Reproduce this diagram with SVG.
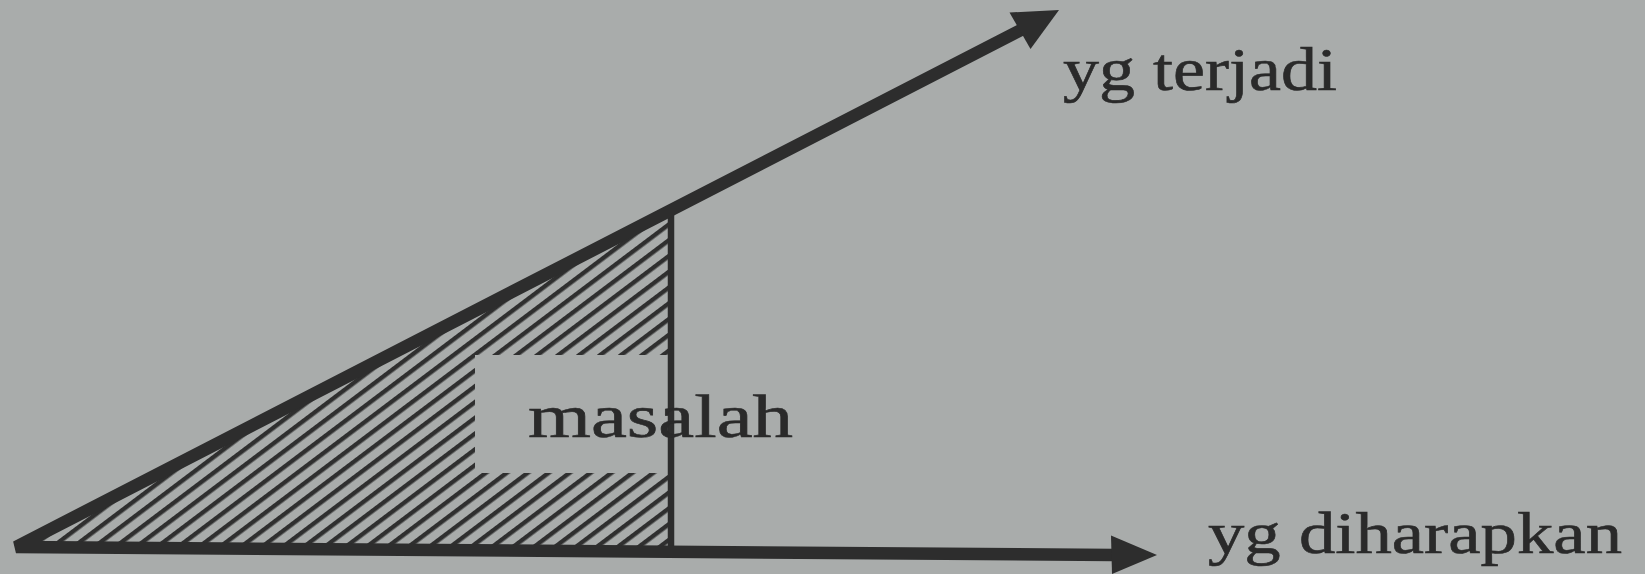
<svg xmlns="http://www.w3.org/2000/svg" width="1645" height="574" viewBox="0 0 1645 574">
  <style>
    .lbl { font-family: "Liberation Serif", "DejaVu Serif", serif; fill: #2a2a2a; }
    .ink { stroke: #2d2d2d; fill: none; }
    .head { fill: #2d2d2d; }
  </style>
  <defs>
    <pattern id="hatch" patternUnits="userSpaceOnUse" width="20" height="12.6" patternTransform="rotate(-37)">
      <rect x="0" y="0" width="20" height="4.4" fill="#2f2f2f"/>
    </pattern>
  </defs>
  <rect width="1645" height="574" fill="#a9acab"/>

  <g id="masalah-area">
    <path d="M16,547 L671,210.4 L671,550 L16,548 Z M475,355 L671,355 L671,473 L475,473 Z" fill="url(#hatch)" fill-rule="evenodd"/>
    <line class="ink" x1="671" y1="212" x2="671" y2="551" stroke-width="6.5"/>
    <text class="lbl" x="528" y="437" font-size="61" textLength="265" lengthAdjust="spacingAndGlyphs" stroke="#2a2a2a" stroke-width="0.6">masalah</text>
  </g>

  <g id="connectors">
    <polyline class="ink" points="1021,30 16,547 1114,555" stroke-width="12.5" stroke-linejoin="bevel"/>
    <polygon class="head" points="1059,10 1009.5,12.5 1030.5,49"/>
    <polygon class="head" points="1157,555 1111,535.5 1112,574"/>
  </g>

  <g id="yg-terjadi">
    <text class="lbl" x="1063" y="90" font-size="62" textLength="274" lengthAdjust="spacingAndGlyphs" stroke="#2a2a2a" stroke-width="0.6">yg terjadi</text>
  </g>

  <g id="yg-diharapkan">
    <text class="lbl" x="1208" y="553" font-size="60" textLength="414" lengthAdjust="spacingAndGlyphs" stroke="#2a2a2a" stroke-width="0.6">yg diharapkan</text>
  </g>
</svg>
